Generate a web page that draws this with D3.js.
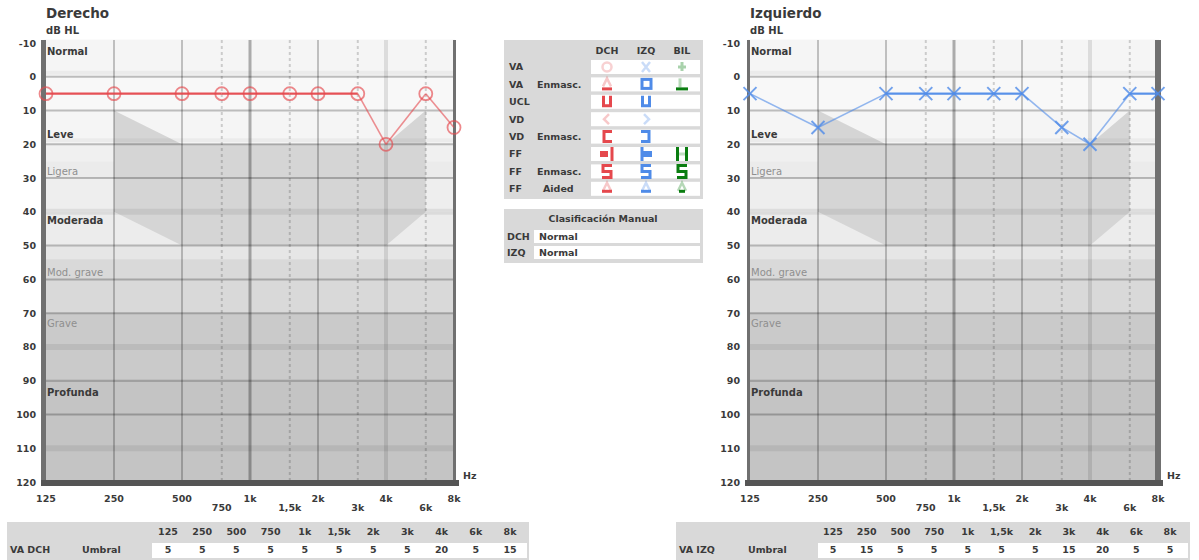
<!DOCTYPE html>
<html>
<head>
<meta charset="utf-8">
<script src="https://cdn.jsdelivr.net/npm/d3@7"></script>
<style>
  body { margin: 0; background: #fff; }
  text { font-family: "DejaVu Sans", Verdana, sans-serif; font-weight: bold; }
</style>
</head>
<body>
<svg id="chart" width="1199" height="560"></svg>
<script>
// ---- Audiogram data ----
const freqs = [125, 250, 500, 750, 1000, 1500, 2000, 3000, 4000, 6000, 8000];
const freqLabels = ["125", "250", "500", "750", "1k", "1,5k", "2k", "3k", "4k", "6k", "8k"];
const rightEarDb = [5, 5, 5, 5, 5, 5, 5, 5, 20, 5, 15];   // VA DCH umbral
const leftEarDb  = [5, 15, 5, 5, 5, 5, 5, 15, 20, 5, 5];  // VA IZQ umbral
const dbTicks = [-10, 0, 10, 20, 30, 40, 50, 60, 70, 80, 90, 100, 110, 120];
const minorFreqs = [750, 1500, 3000, 6000];

// hearing-loss zones: label and dB where the label sits
const zoneNames = ["Normal", "Leve", "Ligera", "Moderada", "Mod. grave", "Grave", "Profunda"];
const zoneLabelDb = [-7.5, 17, 28, 42.5, 58, 73, 93.5];
const zoneMuted = [false, false, true, false, true, true, false];

// background shading bands [fromDb, toDb, fill]
const bandFrom = [-11, 0, 10, 20, 25, 30, 40, 50, 54, 70, 90];
const bandTo   = [0, 10, 20, 25, 30, 40, 50, 54, 70, 90, 120];
const bandFill = ["#f5f5f5", "#f8f8f8", "#f5f5f5", "#f0f0f0", "#ebebeb", "#eeeeee",
                  "#ececec", "#e6e6e6", "#d9d9d9", "#cacaca", "#c4c4c4"];

// speech area outline (freq, dB)
const speechFreq = [250, 500, 4000, 6000, 6000, 4000, 500, 250];
const speechDb   = [10, 20, 20, 10, 40, 50, 50, 40];

// legend table
const legendCols = ["DCH", "IZQ", "BIL"];
const legendRowA = ["VA", "VA", "UCL", "VD", "VD", "FF", "FF", "FF"];
const legendRowB = ["", "Enmasc.", "", "", "Enmasc.", "", "Enmasc.", "Aided"];
const classRows = ["DCH", "IZQ"];
const classValues = ["Normal", "Normal"];

const RED = "#e5484d", BLUE = "#4f8be8", GREEN = "#0a7d10";
const INK = "#3a3a3a";
const FS = 9.5;

const svg = d3.select("#chart");

function drawAudiogram(opts) {
  const g = svg.append("g");
  const x = d3.scaleLog().domain([125, 8000]).range([opts.x0, opts.x0 + 408]);
  const y = d3.scaleLinear().domain([-10, 120]).range([43, 482]);
  const xl = x(125) - 2, xr = x(8000) + 1;

  // zone shading
  g.selectAll("rect.band").data(bandFrom).join("rect")
    .attr("x", xl).attr("width", xr - xl)
    .attr("y", (d, i) => y(d)).attr("height", (d, i) => y(bandTo[i]) - y(d))
    .attr("fill", (d, i) => bandFill[i]);

  // speech area
  const area = speechFreq.map((f, i) => [x(f), y(speechDb[i])]);
  g.append("polygon").attr("points", area.map(p => p.join(",")).join(" "))
    .attr("fill", "#d5d5d5");

  // horizontal grid
  const heavy = dbTicks.filter(d => d > -10 && d < 120 && d !== 40 && d !== 80 && d !== 110);
  const soft = [40, 80, 110];
  g.selectAll("line.hs").data(soft).join("line")
    .attr("x1", xl).attr("x2", xr).attr("y1", d => y(d)).attr("y2", d => y(d))
    .attr("stroke", "rgba(0,0,0,0.07)").attr("stroke-width", 6);
  g.selectAll("line.hl").data([0, 20]).join("line")
    .attr("x1", xl).attr("x2", xr).attr("y1", d => y(d) - 4).attr("y2", d => y(d) - 4)
    .attr("stroke", "rgba(0,0,0,0.04)").attr("stroke-width", 4);
  g.selectAll("line.h").data(heavy).join("line")
    .attr("x1", xl).attr("x2", xr).attr("y1", d => y(d)).attr("y2", d => y(d))
    .attr("stroke", "rgba(0,0,0,0.24)").attr("stroke-width", 2);

  // vertical grid
  const major = [250, 500, 1000, 2000, 4000];
  g.selectAll("line.vm").data(major).join("line")
    .attr("x1", d => x(d)).attr("x2", d => x(d)).attr("y1", 40).attr("y2", 482)
    .attr("stroke", d => d === 1000 ? "rgba(0,0,0,0.3)" : d === 4000 ? "rgba(0,0,0,0.1)" : "rgba(0,0,0,0.22)")
    .attr("stroke-width", d => d === 1000 ? 3 : d === 4000 ? 4 : 2);
  g.selectAll("line.vn").data(minorFreqs).join("line")
    .attr("x1", d => x(d)).attr("x2", d => x(d)).attr("y1", 40).attr("y2", 482)
    .attr("stroke", "rgba(0,0,0,0.17)").attr("stroke-width", 2)
    .attr("stroke-dasharray", "3,3");

  // frame: thick outer side, thin inner side, heavy bottom
  const thickLeft = opts.thickSide === "left";
  g.append("rect").attr("x", xl - (thickLeft ? 3 : 1)).attr("y", 40)
    .attr("width", thickLeft ? 5 : 3).attr("height", 446).attr("fill", "#707070");
  g.append("rect").attr("x", xr - (thickLeft ? 2 : 4)).attr("y", 40)
    .attr("width", thickLeft ? 3 : 6).attr("height", 446).attr("fill", "#707070");
  g.append("rect").attr("x", xl - 3).attr("y", 480).attr("width", xr - xl + 7)
    .attr("height", 6).attr("fill", "#555");

  // zone labels
  g.selectAll("text.zone").data(zoneNames).join("text")
    .attr("x", xl + 3).attr("y", (d, i) => y(zoneLabelDb[i]))
    .attr("dy", "0.35em").attr("font-size", 10)
    .attr("fill", (d, i) => zoneMuted[i] ? "#8f8f8f" : INK)
    .style("font-weight", (d, i) => zoneMuted[i] ? "normal" : "bold")
    .text(d => d);

  // y axis
  const yAxis = d3.axisLeft(y).tickValues(dbTicks).tickFormat(d => String(d))
    .tickSize(0).tickPadding(8);
  const ya = g.append("g").attr("transform", `translate(${xl},0)`).call(yAxis);
  ya.select(".domain").remove();
  ya.selectAll("text").attr("font-size", FS).attr("fill", INK)
    .attr("font-family", null);

  // x labels in two staggered rows
  g.selectAll("text.xl").data(freqs).join("text")
    .attr("x", d => x(d)).attr("y", d => minorFreqs.includes(d) ? 508 : 499)
    .attr("dy", "0.35em").attr("text-anchor", "middle").attr("font-size", FS)
    .attr("fill", INK).text((d, i) => freqLabels[i]);

  g.append("text").attr("x", xr + 8).attr("y", 476).attr("dy", "0.35em")
    .attr("font-size", FS).attr("fill", INK).text("Hz");
  g.append("text").attr("x", x(125)).attr("y", 34).attr("font-size", 10)
    .attr("fill", INK).text("dB HL");
  g.append("text").attr("x", x(125)).attr("y", 18).attr("font-size", 13.5)
    .attr("fill", INK).text(opts.title);

  // thresholds: level runs drawn solid, sloped runs lighter
  const pts = freqs.map((f, i) => [x(f), y(opts.data[i])]);
  const segs = d3.pairs(pts);
  g.selectAll("line.seg").data(segs).join("line")
    .attr("x1", d => d[0][0]).attr("y1", d => d[0][1])
    .attr("x2", d => d[1][0]).attr("y2", d => d[1][1])
    .attr("stroke", opts.color)
    .attr("stroke-width", d => d[0][1] === d[1][1] ? 2.2 : 1.6)
    .attr("stroke-opacity", d => d[0][1] === d[1][1] ? 0.95 : 0.6);
  if (opts.symbol === "circle") {
    g.selectAll("circle.pt").data(pts).join("circle")
      .attr("cx", d => d[0]).attr("cy", d => d[1]).attr("r", 6.5)
      .attr("fill", "none").attr("stroke", opts.color).attr("stroke-width", 1.8)
      .attr("stroke-opacity", 0.65);
  } else {
    const s = 6.5;
    g.selectAll("path.pt").data(pts).join("path")
      .attr("d", d => `M${d[0]-s},${d[1]-s}L${d[0]+s},${d[1]+s}M${d[0]-s},${d[1]+s}L${d[0]+s},${d[1]-s}`)
      .attr("stroke", opts.color).attr("stroke-width", 2).attr("stroke-opacity", 0.8)
      .attr("fill", "none");
  }
}

drawAudiogram({ x0: 46, title: "Derecho", data: rightEarDb, color: RED, symbol: "circle", thickSide: "left" });
drawAudiogram({ x0: 750, title: "Izquierdo", data: leftEarDb, color: BLUE, symbol: "x", thickSide: "right" });

// ---- Symbol legend ----
const lg = svg.append("g");
lg.append("rect").attr("x", 504).attr("y", 40).attr("width", 199).attr("height", 159).attr("fill", "#d9d9d9");
const colX = [607, 646, 682];
lg.selectAll("text.hd").data(legendCols).join("text")
  .attr("x", (d, i) => colX[i]).attr("y", 51).attr("dy", "0.35em")
  .attr("text-anchor", "middle").attr("font-size", FS).attr("fill", INK).text(d => d);
const rowY = legendRowA.map((d, i) => 67 + i * 17.4);
lg.selectAll("rect.cell").data(rowY).join("rect")
  .attr("x", 591).attr("y", d => d - 7).attr("width", 109).attr("height", 14).attr("fill", "#fff");
lg.selectAll("text.ra").data(legendRowA).join("text")
  .attr("x", 509).attr("y", (d, i) => rowY[i]).attr("dy", "0.35em")
  .attr("font-size", FS).attr("fill", INK).text(d => d);
lg.selectAll("text.rb").data(legendRowB).join("text")
  .attr("x", (d) => d === "Aided" ? 543 : 537).attr("y", (d, i) => rowY[i]).attr("dy", "0.35em")
  .attr("font-size", FS).attr("fill", INK).text(d => d);

function glyph(path, color, opacity, width) {
  lg.append("path").attr("d", path).attr("fill", "none").attr("stroke", color)
    .attr("stroke-width", width || 3).attr("stroke-opacity", opacity).attr("stroke-linejoin", "miter");
}
function bar(cx, cy, color) {
  lg.append("rect").attr("x", cx - 5).attr("y", cy + 3).attr("width", 10).attr("height", 3).attr("fill", color);
}
function tri(cx, cy) { return `M${cx-4},${cy+2}L${cx},${cy-6}L${cx+4},${cy+2}`; }
const cols = [RED, BLUE, GREEN];

// VA
lg.append("circle").attr("cx", colX[0]).attr("cy", rowY[0]).attr("r", 4.5).attr("fill", "none")
  .attr("stroke", RED).attr("stroke-width", 2.5).attr("stroke-opacity", 0.25);
glyph(`M${colX[1]-4},${rowY[0]-5}L${colX[1]+4},${rowY[0]+5}M${colX[1]-4},${rowY[0]+5}L${colX[1]+4},${rowY[0]-5}`, BLUE, 0.3, 2.5);
glyph(`M${colX[2]-4},${rowY[0]}H${colX[2]+4}M${colX[2]},${rowY[0]-5}V${rowY[0]+4}`, GREEN, 0.35, 3);
// VA Enmasc.
glyph(tri(colX[0], rowY[1]), RED, 0.3, 2.5); bar(colX[0], rowY[1], RED);
lg.append("rect").attr("x", colX[1] - 4).attr("y", rowY[1] - 5).attr("width", 9).attr("height", 9)
  .attr("fill", "none").attr("stroke", BLUE).attr("stroke-width", 3);
glyph(`M${colX[2]-2},${rowY[1]-6}V${rowY[1]+3}`, GREEN, 0.3, 3);
lg.append("rect").attr("x", colX[2] - 6).attr("y", rowY[1] + 3).attr("width", 12).attr("height", 3).attr("fill", GREEN);
// UCL
[0, 1].forEach(i => glyph(`M${colX[i]-3.5},${rowY[2]-6}V${rowY[2]+4}H${colX[i]+3.5}V${rowY[2]-6}`, cols[i], 1, 3));
// VD
glyph(`M${colX[0]+2},${rowY[3]-5}L${colX[0]-3},${rowY[3]}L${colX[0]+2},${rowY[3]+5}`, RED, 0.3, 2.5);
glyph(`M${colX[1]-2},${rowY[3]-5}L${colX[1]+3},${rowY[3]}L${colX[1]-2},${rowY[3]+5}`, BLUE, 0.3, 2.5);
// VD Enmasc.
glyph(`M${colX[0]+5},${rowY[4]-5}H${colX[0]-3}V${rowY[4]+5}H${colX[0]+5}`, RED, 1, 3);
glyph(`M${colX[1]-5},${rowY[4]-5}H${colX[1]+3}V${rowY[4]+5}H${colX[1]-5}`, BLUE, 1, 3);
// FF
lg.append("rect").attr("x", colX[0] - 7).attr("y", rowY[5] - 3).attr("width", 8).attr("height", 6).attr("fill", RED);
glyph(`M${colX[0]+5},${rowY[5]-7}V${rowY[5]+7}`, RED, 1, 3);
glyph(`M${colX[1]-4},${rowY[5]-7}V${rowY[5]+7}`, BLUE, 1, 3);
lg.append("rect").attr("x", colX[1] - 3).attr("y", rowY[5] - 3).attr("width", 9).attr("height", 6).attr("fill", BLUE);
glyph(`M${colX[2]-4.5},${rowY[5]-7}V${rowY[5]+7}M${colX[2]+4.5},${rowY[5]-7}V${rowY[5]+7}`, GREEN, 1, 3);
glyph(`M${colX[2]-3},${rowY[5]}H${colX[2]+3}`, GREEN, 0.25, 3);
// FF Enmasc.
[0, 1, 2].forEach(i => glyph(
  `M${colX[i]+5},${rowY[6]-6}H${colX[i]-4}V${rowY[6]}H${colX[i]+4}V${rowY[6]+6}H${colX[i]-5}`, cols[i], 1, 3));
// FF Aided
[0, 1, 2].forEach(i => { glyph(tri(colX[i], rowY[7]), cols[i], 0.3, 2.5); });
[0, 1].forEach(i => lg.append("rect").attr("x", colX[i] - 5).attr("y", rowY[7] + 1).attr("width", 10).attr("height", 3).attr("fill", cols[i]));
lg.append("rect").attr("x", colX[2] - 3).attr("y", rowY[7] + 1).attr("width", 6).attr("height", 3).attr("fill", GREEN);

// ---- Manual classification ----
const cg = svg.append("g");
cg.append("rect").attr("x", 504).attr("y", 209).attr("width", 199).attr("height", 54).attr("fill", "#d9d9d9");
cg.append("text").attr("x", 603).attr("y", 219).attr("dy", "0.35em").attr("text-anchor", "middle")
  .attr("font-size", FS).attr("fill", INK).text("Clasificación Manual");
const classY = classRows.map((d, i) => 237 + i * 16);
cg.selectAll("rect.cc").data(classY).join("rect")
  .attr("x", 534).attr("y", d => d - 7).attr("width", 166).attr("height", 13).attr("fill", "#fff");
cg.selectAll("text.cr").data(classRows).join("text")
  .attr("x", 507).attr("y", (d, i) => classY[i]).attr("dy", "0.35em")
  .attr("font-size", FS).attr("fill", INK).text(d => d);
cg.selectAll("text.cv").data(classValues).join("text")
  .attr("x", 539).attr("y", (d, i) => classY[i]).attr("dy", "0.35em")
  .attr("font-size", FS).attr("fill", INK).text(d => d);

// ---- Threshold tables ----
function thresholdTable(opts) {
  const tg = svg.append("g");
  tg.append("rect").attr("x", opts.x).attr("y", 522).attr("width", opts.w).attr("height", 40).attr("fill", "#d9d9d9");
  tg.append("rect").attr("x", opts.cellX).attr("y", 543).attr("width", opts.x + opts.w - 2 - opts.cellX)
    .attr("height", 15).attr("fill", "#fff");
  const cx = d3.scalePoint().domain(freqLabels).range([opts.col0, opts.col0 + 10 * opts.step]);
  tg.selectAll("text.fh").data(freqLabels).join("text")
    .attr("x", d => cx(d)).attr("y", 532).attr("dy", "0.35em").attr("text-anchor", "middle")
    .attr("font-size", FS).attr("fill", INK).text(d => d);
  tg.selectAll("text.fv").data(opts.data).join("text")
    .attr("x", (d, i) => cx(freqLabels[i])).attr("y", 550).attr("dy", "0.35em").attr("text-anchor", "middle")
    .attr("font-size", FS).attr("fill", INK).text(d => d);
  tg.append("text").attr("x", opts.x + 3).attr("y", 550).attr("dy", "0.35em")
    .attr("font-size", FS).attr("fill", INK).text(opts.label);
  tg.append("text").attr("x", opts.umbralX).attr("y", 550).attr("dy", "0.35em")
    .attr("font-size", FS).attr("fill", INK).text("Umbral");
}
thresholdTable({ x: 7, w: 522, cellX: 152, col0: 168, step: 34.2, umbralX: 82, label: "VA DCH", data: rightEarDb });
thresholdTable({ x: 676, w: 514, cellX: 818, col0: 833, step: 33.7, umbralX: 748, label: "VA IZQ", data: leftEarDb });
</script>
</body>
</html>
